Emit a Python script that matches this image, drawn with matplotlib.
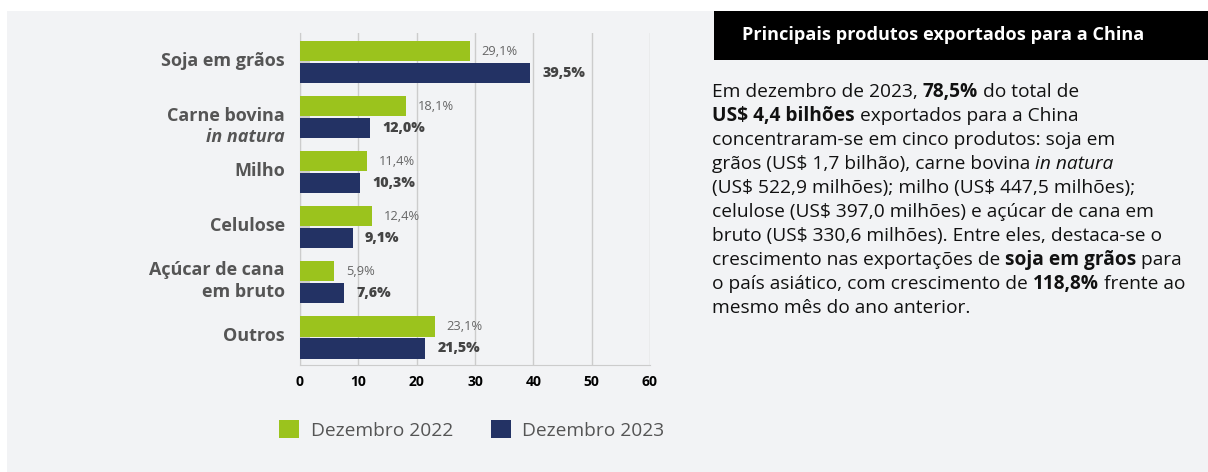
import matplotlib.pyplot as plt
from matplotlib.patches import Patch, Rectangle
import numpy as np

# data
categories = ['Soja em grãos', 'Carne bovina', 'Milho', 'Celulose', 'Açúcar de cana\nem bruto', 'Outros']
dez_2022 = [29.1, 18.1, 11.4, 12.4, 5.9, 23.1]
dez_2023 = [39.5, 12.0, 10.3, 9.1, 7.6, 21.5]
xticks = [0, 10, 20, 30, 40, 50, 60]
series_names = ['Dezembro 2022', 'Dezembro 2023']

title = 'Principais produtos exportados para a China'
# paragraph lines as (text, weight, style) segments
paragraph = [
    [('Em dezembro de 2023, ', 'normal', 'normal'), ('78,5%', 'bold', 'normal'), (' do total de', 'normal', 'normal')],
    [('US$ 4,4 bilhões', 'bold', 'normal'), (' exportados para a China', 'normal', 'normal')],
    [('concentraram-se em cinco produtos: soja em', 'normal', 'normal')],
    [('grãos (US$ 1,7 bilhão), carne bovina ', 'normal', 'normal'), ('in natura', 'normal', 'italic')],
    [('(US$ 522,9 milhões); milho (US$ 447,5 milhões);', 'normal', 'normal')],
    [('celulose (US$ 397,0 milhões) e açúcar de cana em', 'normal', 'normal')],
    [('bruto (US$ 330,6 milhões). Entre eles, destaca-se o', 'normal', 'normal')],
    [('crescimento nas exportações de ', 'normal', 'normal'), ('soja em grãos', 'bold', 'normal'), (' para', 'normal', 'normal')],
    [('o país asiático, com crescimento de ', 'normal', 'normal'), ('118,8%', 'bold', 'normal'), (' frente ao', 'normal', 'normal')],
    [('mesmo mês do ano anterior.', 'normal', 'normal')],
]

GREEN = '#9bc31d'
NAVY = '#233264'
BG = '#f2f3f5'
W, H = 1208, 472

plt.rcParams['font.family'] = ['Open Sans', 'DejaVu Sans']

fig = plt.figure(figsize=(W / 100, H / 100), dpi=100)
fig.patch.set_facecolor('white')

def fx(px):
    return px / W

def fy(py):
    return 1 - py / H

# gray panel and black header
fig.patches.append(Rectangle((fx(7), 0), 1 - fx(7), fy(11), transform=fig.transFigure,
                             facecolor=BG, edgecolor='none', zorder=-10))
fig.patches.append(Rectangle((fx(714), fy(60)), 1 - fx(714), fy(11) - fy(60), transform=fig.transFigure,
                             facecolor='black', edgecolor='none', zorder=-5))
fig.text(fx(742), fy(35), title, color='white', fontsize=13.1, fontweight='bold', va='center', ha='left')

ax = fig.add_axes([fx(300), fy(365), fx(650) - fx(300), fy(33) - fy(365)])
ax.set_facecolor(BG)

y = np.arange(len(categories))
h = 0.365
ax.barh(y - 0.2, dez_2022, height=h, color=GREEN, zorder=3)
ax.barh(y + 0.2, dez_2023, height=h, color=NAVY, zorder=3)

for i in range(len(categories)):
    ax.annotate(f'{dez_2022[i]:.1f}'.replace('.', ',') + '%', (dez_2022[i], y[i] - 0.2),
                xytext=(12, 0), textcoords='offset pixels', va='center', ha='left',
                fontsize=9.3, color='#666666')
    ax.annotate(f'{dez_2023[i]:.1f}'.replace('.', ',') + '%', (dez_2023[i], y[i] + 0.2),
                xytext=(12, 0), textcoords='offset pixels', va='center', ha='left',
                fontsize=10.3, color='#444444', fontweight='heavy')

ax.set_xlim(0, 60)
ax.set_ylim(5.5, -0.53)
ax.set_xticks(xticks)
ax.set_xticklabels([str(t) for t in xticks], fontsize=10, fontweight='bold', color='black')
ax.tick_params(axis='x', length=0, pad=7)
ax.grid(axis='x', color='#cccccc', linewidth=1, zorder=0)
ax.set_yticks(y)
ax.set_yticklabels([])
ax.tick_params(axis='y', direction='in', length=7, color='#cccccc', width=1.5)
for s in ['top', 'right']:
    ax.spines[s].set_visible(False)
ax.spines['left'].set_color('#cccccc')
ax.spines['bottom'].set_color('#cccccc')

# category labels
lab_kw = dict(fontsize=13, fontweight='bold', color='#555555', ha='right', va='center')
trans = ax.get_yaxis_transform()
for i, c in enumerate(categories):
    if c == 'Carne bovina':
        ax.text(-0.043, i - 0.03, 'Carne bovina', transform=trans, **lab_kw)
        ax.text(-0.043, i + 0.35, 'in natura', transform=trans, fontstyle='italic', **lab_kw)
    else:
        ax.text(-0.043, i - 0.02, c, transform=trans, linespacing=1.3, **lab_kw)

# legend
handles = [Patch(facecolor=GREEN, label=series_names[0]), Patch(facecolor=NAVY, label=series_names[1])]
leg = fig.legend(handles=handles, loc='center left', bbox_to_anchor=(fx(262), fy(430)), ncol=2,
                 frameon=False, fontsize=13.8, handlelength=1.05, handleheight=1.05,
                 columnspacing=1.95, handletextpad=0.6)
for t in leg.get_texts():
    t.set_color('#555555')

# paragraph with mixed styles
renderer = fig.canvas.get_renderer()
y0 = 92
for k, line in enumerate(paragraph):
    x = 712
    for txt, wt, st in line:
        t = fig.text(fx(x), fy(y0 + 24 * k), txt.replace('$', r'\$'), fontsize=13.8, fontweight=wt,
                     fontstyle=st, color='#111111', va='center', ha='left')
        bb = t.get_window_extent(renderer)
        x += bb.width

fig.savefig('out.png', dpi=100)
